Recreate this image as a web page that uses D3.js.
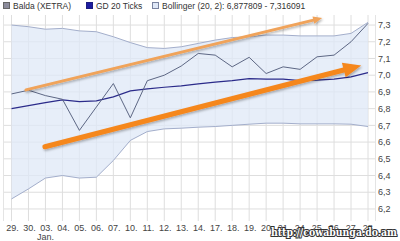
<!DOCTYPE html>
<html>
<head>
<meta charset="utf-8">
<script src="https://cdn.jsdelivr.net/npm/d3@7"></script>
<style>
body { margin: 0; background: #fff; }
svg { display: block; font-family: "Liberation Sans", Arial, sans-serif; }
</style>
</head>
<body>
<div id="chart"></div>
<script>
'use strict'
var width = 400;
var height = 241;

// trading days (Dec 29 .. Jan 28)
var days = ["29.", "30.", "03.", "04.", "05.", "06.", "07.", "10.", "11.", "12.", "13.", "14.", "17.", "18.", "19.", "20.", "21.", "24.", "25.", "26.", "27.", "28."];
var price = [6.888, 6.91, 6.878, 6.856, 6.67, 6.81, 6.95, 6.745, 6.967, 7.0, 7.055, 7.13, 7.12, 7.05, 7.107, 7.01, 7.05, 7.035, 7.11, 7.12, 7.2, 7.31];
var gd20 = [6.80, 6.818, 6.836, 6.852, 6.842, 6.846, 6.87, 6.906, 6.918, 6.928, 6.936, 6.948, 6.958, 6.967, 6.98, 6.976, 6.976, 6.967, 6.97, 6.976, 6.99, 7.015];
var bandUpper = [7.30, 7.29, 7.275, 7.28, 7.265, 7.26, 7.23, 7.195, 7.165, 7.16, 7.17, 7.19, 7.21, 7.225, 7.23, 7.24, 7.24, 7.235, 7.235, 7.235, 7.25, 7.316];
var bandLower = [6.26, 6.32, 6.385, 6.40, 6.385, 6.39, 6.49, 6.61, 6.663, 6.679, 6.683, 6.689, 6.693, 6.70, 6.707, 6.713, 6.713, 6.709, 6.709, 6.709, 6.707, 6.693];
var yTicks = [6.2, 6.3, 6.4, 6.5, 6.6, 6.7, 6.8, 6.9, 7.0, 7.1, 7.2, 7.3];
var legendLabels = ["Balda (XETRA)", "GD 20 Ticks", "Bollinger (20, 2): 6,877809 - 7,316091"];
// hand drawn arrows, [day index, value]
var arrowUpper = [[0.85, 6.912], [18.3, 7.342]];
var arrowLower = [[1.97, 6.572], [20.6, 7.058]];

var svg = d3.select("#chart")
	.append("svg")
	.attr("width", width)
	.attr("height", height);

var x = d3.scalePoint().domain(days).range([11.5, 368]);
var xi = d3.scaleLinear().domain([0, days.length - 1]).range([11.5, 368]);
var y = d3.scaleLinear().domain([6.14, 7.36]).range([219, 15]);

var comma = function(v){ return d3.format(".1f")(v).replace(".", ","); };

// grid
svg.append("g")
	.selectAll("line")
	.data(days)
	.enter()
	.append("line")
		.attr("x1", function(d){ return x(d); })
		.attr("x2", function(d){ return x(d); })
		.attr("y1", 15)
		.attr("y2", 221)
		.style("stroke", "#dedede");

svg.append("g")
	.selectAll("line")
	.data(yTicks)
	.enter()
	.append("line")
		.attr("x1", 3)
		.attr("x2", 375)
		.attr("y1", function(d){ return y(d); })
		.attr("y2", function(d){ return y(d); })
		.style("stroke", "#dedede");

svg.append("line").attr("x1", 3.5).attr("x2", 3.5).attr("y1", 15).attr("y2", 221).style("stroke", "#e4e4e4");
svg.append("line").attr("x1", 375.5).attr("x2", 375.5).attr("y1", 15).attr("y2", 221).style("stroke", "#e4e4e4");

// bollinger band
var idx = d3.range(days.length);
svg.append("path")
	.datum(idx)
	.attr("d", d3.area()
		.x(function(i){ return x(days[i]); })
		.y0(function(i){ return y(bandLower[i]); })
		.y1(function(i){ return y(bandUpper[i]); }))
	.style("fill", "#dfe8f7")
	.style("opacity", 0.75);

var line = function(arr){
	return d3.line()
		.x(function(i){ return x(days[i]); })
		.y(function(i){ return y(arr[i]); })(idx);
};

svg.append("path").attr("d", line(bandUpper)).style("fill", "none").style("stroke", "#a3aecb").style("stroke-width", 1);
svg.append("path").attr("d", line(bandLower)).style("fill", "none").style("stroke", "#a3aecb").style("stroke-width", 1);
svg.append("path").attr("d", line(gd20)).style("fill", "none").style("stroke", "#2b2b8a").style("stroke-width", 1.2);
svg.append("path").attr("d", line(price)).style("fill", "none").style("stroke", "#5d6784").style("stroke-width", 1);

// arrows
var defs = svg.append("defs");
var blur = defs.append("filter").attr("id", "shadow").attr("x", "-20%").attr("y", "-50%").attr("width", "140%").attr("height", "200%");
blur.append("feDropShadow").attr("dx", 1).attr("dy", 1.5).attr("stdDeviation", 1.2).attr("flood-color", "#000").attr("flood-opacity", 0.3);

function arrow(pts, w, head, color){
	var x0 = xi(pts[0][0]), y0 = y(pts[0][1]);
	var x1 = xi(pts[1][0]), y1 = y(pts[1][1]);
	var a = Math.atan2(y1 - y0, x1 - x0);
	var bx = x1 - head * Math.cos(a), by = y1 - head * Math.sin(a);
	var nx = -Math.sin(a), ny = Math.cos(a);
	var g = svg.append("g").attr("filter", "url(#shadow)");
	g.append("line")
		.attr("x1", x0).attr("y1", y0).attr("x2", bx).attr("y2", by)
		.style("stroke", color).style("stroke-width", w).style("stroke-linecap", "round");
	var hw = head * 0.42;
	g.append("path")
		.attr("d", "M" + x1 + "," + y1 + "L" + (bx + nx * hw) + "," + (by + ny * hw) + "L" + (bx - nx * hw) + "," + (by - ny * hw) + "Z")
		.style("fill", color);
}
arrow(arrowUpper, 3, 9, "#f0a35a");
arrow(arrowLower, 5, 18, "#f5871f");

// y labels
svg.append("g")
	.selectAll("text")
	.data(yTicks)
	.enter()
	.append("text")
		.attr("x", 378)
		.attr("y", function(d){ return y(d); })
		.attr("dy", "0.35em")
		.text(comma)
		.style("font-size", "9px")
		.style("fill", "#444");

// x labels
svg.append("g")
	.selectAll("text")
	.data(days)
	.enter()
	.append("text")
		.attr("x", function(d){ return x(d) + 1; })
		.attr("y", 231)
		.attr("text-anchor", "middle")
		.text(function(d){ return d; })
		.style("font-size", "9px")
		.style("fill", "#444");

svg.append("text").attr("x", x("03.")).attr("y", 240).attr("text-anchor", "middle")
	.text("Jan.").style("font-size", "9px").style("fill", "#444");

// legend
var legendX = [3, 86, 152];
var legendFill = ["#8c8c9c", "#1c1ca0", "#dfe8f7"];
var legendStroke = ["#666", "#1c1c80", "#7a84a0"];
var lg = svg.append("g").selectAll("g").data(legendLabels).enter().append("g");
lg.append("rect")
	.attr("x", function(d, i){ return legendX[i] + 0.5; })
	.attr("y", 2.5)
	.attr("width", 6)
	.attr("height", 6)
	.style("fill", function(d, i){ return legendFill[i]; })
	.style("stroke", function(d, i){ return legendStroke[i]; });
lg.append("text")
	.attr("x", function(d, i){ return legendX[i] + 10; })
	.attr("y", 9)
	.text(function(d){ return d; })
	.style("font-size", "8.5px")
	.style("fill", "#333");

// watermark
svg.append("text")
	.attr("x", 271)
	.attr("y", 235.5)
	.attr("textLength", 126)
	.attr("lengthAdjust", "spacingAndGlyphs")
	.text("http://cowabunga.do.am")
	.style("font-family", "'DejaVu Serif', serif")
	.style("font-weight", "bold")
	.style("font-size", "11px")
	.style("fill", "#fff")
	.style("stroke", "#333")
	.style("stroke-width", 2.2)
	.style("paint-order", "stroke");
</script>
</body>
</html>
